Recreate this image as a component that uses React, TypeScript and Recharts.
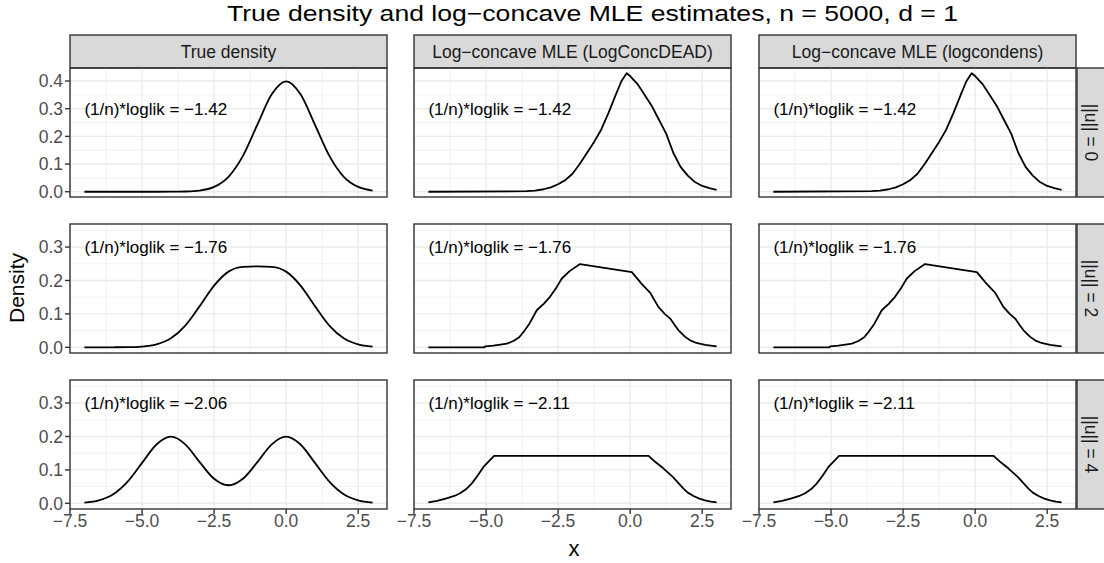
import React from "react";
import { LineChart, Line, XAxis, YAxis, CartesianGrid, ReferenceDot } from "recharts";

// true densities, read on a 0.5 grid
const xGrid = [-7, -6.5, -6, -5.5, -5, -4.5, -4, -3.5, -3, -2.5, -2, -1.5, -1, -0.5, 0, 0.5, 1, 1.5, 2, 2.5, 3];
const trueU0 = [0, 0, 0, 0, 0, 0, 0.0001, 0.0009, 0.0044, 0.0175, 0.054, 0.1295, 0.242, 0.3521, 0.3989, 0.3521, 0.242, 0.1295, 0.054, 0.0175, 0.0044];
const trueU2 = [0, 0, 0.0001, 0.0004, 0.0022, 0.0088, 0.027, 0.0652, 0.1232, 0.1848, 0.2265, 0.2408, 0.242, 0.2408, 0.2265, 0.1848, 0.1232, 0.0652, 0.027, 0.0088, 0.0022];
const trueU4 = [0.0022, 0.0088, 0.027, 0.0648, 0.121, 0.176, 0.1995, 0.1765, 0.1232, 0.0735, 0.054, 0.0735, 0.1232, 0.1765, 0.1995, 0.176, 0.121, 0.0648, 0.027, 0.0088, 0.0022];

// log-concave MLE (LogConcDEAD and logcondens draw the same curve)
const mleX0 = [-7, -3.6, -3.3, -3, -2.75, -2.5, -2.25, -2, -1.75, -1.5, -1.25, -1, -0.75, -0.5, -0.3, -0.12, 0, 0.25, 0.5, 0.75, 1, 1.25, 1.5, 1.75, 2, 2.25, 2.5, 2.75, 3];
const mleY0 = [0, 0.002, 0.004, 0.009, 0.016, 0.027, 0.042, 0.065, 0.1, 0.14, 0.18, 0.225, 0.285, 0.35, 0.4, 0.428, 0.418, 0.39, 0.35, 0.31, 0.26, 0.21, 0.14, 0.09, 0.058, 0.035, 0.021, 0.013, 0.007];
const mleX2 = [-7, -5.05, -5.03, -4.75, -4.5, -4.28, -4.05, -3.85, -3.7, -3.5, -3.24, -3, -2.78, -2.55, -2.37, -2.1, -1.74, 0.06, 0.4, 0.69, 0.98, 1.2, 1.39, 1.55, 1.68, 1.9, 2.08, 2.3, 2.6, 3];
const mleY2 = [0, 0, 0.003, 0.005, 0.008, 0.011, 0.019, 0.03, 0.046, 0.07, 0.111, 0.13, 0.151, 0.18, 0.206, 0.228, 0.249, 0.225, 0.19, 0.164, 0.121, 0.1, 0.086, 0.066, 0.051, 0.032, 0.021, 0.013, 0.007, 0.003];
const mleX4 = [-7, -6.7, -6.37, -6.1, -5.9, -5.7, -5.5, -5.3, -5.09, -4.72, 0.64, 0.9, 1.16, 1.48, 1.7, 1.85, 2, 2.2, 2.4, 2.6, 2.8, 3];
const mleY4 = [0.003, 0.007, 0.015, 0.022, 0.03, 0.042, 0.059, 0.082, 0.109, 0.142, 0.142, 0.122, 0.104, 0.079, 0.058, 0.044, 0.032, 0.022, 0.014, 0.009, 0.005, 0.003];

const colLabels = ["True density", "Log\u2212concave MLE (LogConcDEAD)", "Log\u2212concave MLE (logcondens)"];
const rowLabels = ["||u|| = 0", "||u|| = 2", "||u|| = 4"];
const loglik = [
  [-1.42, -1.42, -1.42],
  [-1.76, -1.76, -1.76],
  [-2.06, -2.11, -2.11],
];

const xMajor = [-7.5, -5, -2.5, 0, 2.5];
const xMinor = [-6.25, -3.75, -1.25, 1.25];
const yMajor = [[0, 0.1, 0.2, 0.3, 0.4], [0, 0.1, 0.2, 0.3], [0, 0.1, 0.2, 0.3]];
const yMinor = [[0.05, 0.15, 0.25, 0.35], [0.05, 0.15, 0.25, 0.35], [0.05, 0.15, 0.25, 0.35]];

const xDomain = [-7.5, 3.5];
const yDomains = [[-0.019, 0.447], [-0.017, 0.369], [-0.017, 0.369]];

const colLeft = [70, 414, 759];
const rowTop = [68, 224, 380];
const panelW = 317;
const panelH = 129;
const leftAxisW = 70;
const padL = 28;
const padB = 14;
const bottomAxisH = 32;
const FONT = "'Liberation Sans', Arial, Helvetica, sans-serif";

const zip = (xs: number[], ys: number[]) => xs.map((x, i) => ({ x, y: ys[i] }));
const trueSeries = [zip(xGrid, trueU0), zip(xGrid, trueU2), zip(xGrid, trueU4)];
const mleSeries = [zip(mleX0, mleY0), zip(mleX2, mleY2), zip(mleX4, mleY4)];

const fmt1 = (v: number) => v.toFixed(1).replace("-", "\u2212");
const fmt2 = (v: number) => v.toFixed(2).replace("-", "\u2212");

function Panel({ r, c }: { r: number; c: number }) {
  const showY = c === 0;
  const showX = r === 2;
  const data = c === 0 ? trueSeries[r] : mleSeries[r];
  const tickStyle = { fill: "#4D4D4D", fontSize: 17.5, fontFamily: FONT };
  const extraL = showY ? leftAxisW : padL;
  const extraB = showX ? bottomAxisH : padB;
  return (
    <div style={{ position: "absolute", left: colLeft[c] - extraL, top: rowTop[r] }}>
      <LineChart
        width={panelW + extraL}
        height={panelH + extraB}
        data={data}
        margin={{ top: 0, right: 0, bottom: showX ? 0 : padB, left: showY ? 0 : padL }}
      >
        <CartesianGrid stroke="#EBEBEB" strokeWidth={0.7} horizontalValues={yMinor[r]} verticalValues={xMinor} />
        <CartesianGrid stroke="#EBEBEB" strokeWidth={1.4} horizontalValues={yMajor[r]} verticalValues={xMajor} />
        <XAxis
          type="number"
          dataKey="x"
          domain={xDomain}
          allowDataOverflow
          ticks={xMajor}
          interval={0}
          hide={!showX}
          height={bottomAxisH}
          axisLine={false}
          tickSize={5}
          tickMargin={1}
          tickLine={{ stroke: "#333333", strokeWidth: 1.4 }}
          tick={tickStyle}
          tickFormatter={fmt1}
        />
        <YAxis
          type="number"
          domain={yDomains[r]}
          allowDataOverflow
          ticks={yMajor[r]}
          interval={0}
          hide={!showY}
          width={leftAxisW}
          axisLine={false}
          tickSize={5}
          tickMargin={2}
          tickLine={{ stroke: "#333333", strokeWidth: 1.4 }}
          tick={tickStyle}
          tickFormatter={fmt1}
        />
        <Line
          type={c === 0 ? "monotone" : "linear"}
          dataKey="y"
          stroke="#000000"
          strokeWidth={1.8}
          strokeLinejoin="round"
          dot={false}
          isAnimationActive={false}
        />
        <ReferenceDot
          x={-7}
          y={0.3}
          r={0}
          shape={(p: any) => (
            <text x={p.cx} y={p.cy} dy="0.35em" fontSize={17} fontFamily={FONT} fill="#000000">
              {"(1/n)*loglik = " + fmt2(loglik[r][c])}
            </text>
          )}
        />
      </LineChart>
    </div>
  );
}

export default function App() {
  return (
    <div style={{ position: "absolute", left: 0, top: 0, width: 1104, height: 563, background: "#fff", overflow: "hidden", fontFamily: FONT }}>
      <svg width={1104} height={563} style={{ position: "absolute", left: 0, top: 0 }}>
        <text x={227} y={21} textLength={731} lengthAdjust="spacingAndGlyphs" fontSize={22} fill="#000">
          True density and log{"\u2212"}concave MLE estimates, n = 5000, d = 1
        </text>
        {colLabels.map((lab, c) => (
          <g key={lab}>
            <rect x={colLeft[c]} y={35} width={panelW} height={33} fill="#D9D9D9" stroke="#333333" strokeWidth={1.4} />
            <text x={colLeft[c] + panelW / 2} y={57.5} textAnchor="middle" fontSize={17.5} fill="#1A1A1A">
              {lab}
            </text>
          </g>
        ))}
        {rowLabels.map((lab, r) => {
          const cy = rowTop[r] + panelH / 2;
          return (
            <g key={lab}>
              <rect x={1077} y={rowTop[r]} width={40} height={panelH} fill="#D9D9D9" stroke="#333333" strokeWidth={1.4} />
              <text x={1085} y={cy} transform={`rotate(90 1085 ${cy})`} textAnchor="middle" fontSize={17.5} fill="#1A1A1A">
                {lab}
              </text>
            </g>
          );
        })}
        <text x={24} y={288} transform="rotate(-90 24 288)" textAnchor="middle" fontSize={21} fill="#000">
          Density
        </text>
        <text x={574} y={556} textAnchor="middle" fontSize={22} fill="#000">
          x
        </text>
      </svg>
      {rowLabels.map((_, r) => colLabels.map((__, c) => <Panel key={`${r}-${c}`} r={r} c={c} />))}
      <svg width={1104} height={563} style={{ position: "absolute", left: 0, top: 0, pointerEvents: "none" }}>
        {rowTop.map((t) =>
          colLeft.map((l) => (
            <rect key={`${t}-${l}`} x={l} y={t} width={panelW} height={panelH} fill="none" stroke="#333333" strokeWidth={1.4} />
          ))
        )}
      </svg>
    </div>
  );
}
